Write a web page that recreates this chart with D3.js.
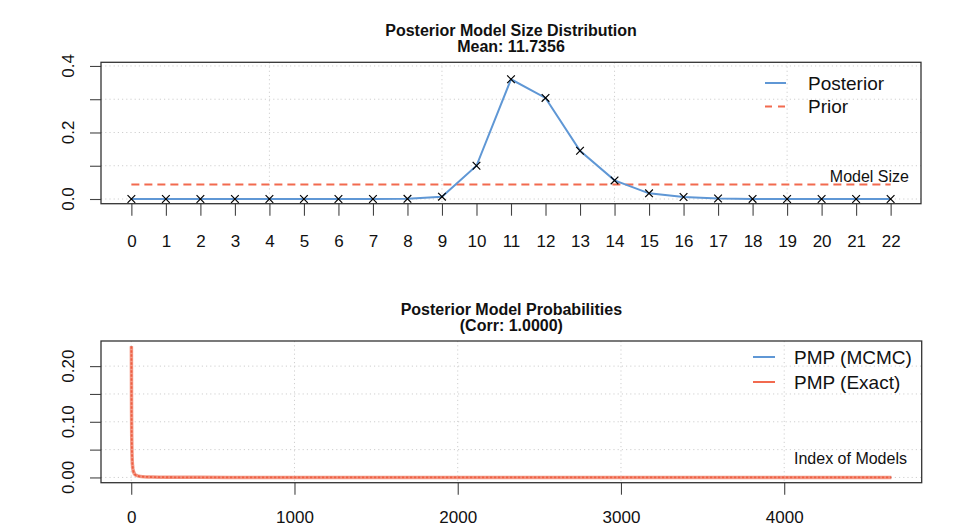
<!DOCTYPE html>
<html>
<head>
<meta charset="utf-8">
<script src="https://cdn.jsdelivr.net/npm/d3@7"></script>
<style>
  html, body { margin: 0; padding: 0; background: #fff; }
  svg { display: block; font-family: "Liberation Sans", Arial, Helvetica, sans-serif; }
</style>
</head>
<body>
<svg id="chart" width="956" height="528"></svg>
<script>
// ---- Model size distribution ----
const modelSizes = d3.range(0, 23);          // 0 .. 22 regressors
const posteriorSize = [0, 0, 0, 0, 0, 0, 0, 0, 0.0005, 0.007, 0.100, 0.360, 0.304,
                       0.145, 0.056, 0.017, 0.006, 0.0015, 0.0003, 0.0001, 0, 0, 0];
const priorSize = [0.0435, 0.0435, 0.0435, 0.0435, 0.0435, 0.0435, 0.0435, 0.0435,
                   0.0435, 0.0435, 0.0435, 0.0435, 0.0435, 0.0435, 0.0435, 0.0435,
                   0.0435, 0.0435, 0.0435, 0.0435, 0.0435, 0.0435, 0.0435];
const sizeYTicks = [0, 0.1, 0.2, 0.3, 0.4];
const sizeYLabels = ["0.0", "", "0.2", "", "0.4"];
const sizeGridX = [4, 9, 14, 19];

// ---- Posterior model probabilities (models ordered by PMP) ----
const modelIndex = [1, 2, 3, 4, 5, 6, 7, 8, 10, 12, 15, 18, 22, 27, 33, 40, 50, 62,
                    80, 100, 130, 170, 220, 300, 420, 600, 900, 1400, 2000, 2800,
                    3600, 4300, 4656];
const pmpExact = [0.2357, 0.118, 0.074, 0.052, 0.040, 0.031, 0.025, 0.021, 0.016,
                  0.0125, 0.0095, 0.0074, 0.0057, 0.0044, 0.0035, 0.0028, 0.0021,
                  0.0016, 0.0012, 0.0009, 0.00068, 0.0005, 0.00037, 0.00026,
                  0.00018, 0.00012, 0.00008, 0.00005, 0.00003, 0.000018,
                  0.00001, 0.000005, 0.000002];
const pmpMcmc = [0.2357, 0.118, 0.074, 0.052, 0.040, 0.031, 0.025, 0.021, 0.016,
                 0.0125, 0.0095, 0.0074, 0.0057, 0.0044, 0.0035, 0.0028, 0.0021,
                 0.0016, 0.0012, 0.0009, 0.00068, 0.0005, 0.00037, 0.00026,
                 0.00018, 0.00012, 0.00008, 0.00005, 0.00003, 0.000018,
                 0.00001, 0.000005, 0.000002];
const pmpYTicks = [0, 0.05, 0.10, 0.15, 0.20];
const pmpYLabels = ["0.00", "", "0.10", "", "0.20"];
const pmpXTicks = [0, 1000, 2000, 3000, 4000];

const BLUE = "#5f97d5";
const RED = "#f26a4f";
const GRID = "#cfcfcf";
const INK = "#111";

const svg = d3.select("#chart");

function pad(lo, hi) { const p = (hi - lo) * 0.04; return [lo - p, hi + p]; }

function panel(opts) {
  const g = svg.append("g");
  const { x, y, box } = opts;

  // dotted grid
  g.append("g").selectAll("line").data(opts.yTicks).join("line")
    .attr("x1", box.l).attr("x2", box.r)
    .attr("y1", d => y(d)).attr("y2", d => y(d))
    .attr("stroke", GRID).attr("stroke-width", 1).attr("stroke-dasharray", "1.2,3");
  g.append("g").selectAll("line").data(opts.gridX).join("line")
    .attr("y1", box.t).attr("y2", box.b)
    .attr("x1", d => x(d)).attr("x2", d => x(d))
    .attr("stroke", GRID).attr("stroke-width", 1).attr("stroke-dasharray", "1.2,3");

  // y axis: ticks from the axis generator, rotated labels alongside
  const yAxis = d3.axisLeft(y).tickValues(opts.yTicks).tickSize(11).tickFormat("");
  const ya = g.append("g").attr("transform", `translate(${box.l},0)`).call(yAxis);
  ya.select(".domain").remove();
  ya.selectAll("line").attr("stroke", "#444").attr("stroke-width", 1.1);
  g.append("g").selectAll("text").data(opts.yTicks).join("text")
    .attr("transform", d => `translate(74,${y(d)}) rotate(-90)`)
    .attr("text-anchor", "middle").attr("font-size", 17).attr("fill", INK)
    .text((d, i) => opts.yLabels[i]);

  // x axis
  const xAxis = d3.axisBottom(x).tickValues(opts.xTicks).tickSize(12)
    .tickFormat((d, i) => opts.xLabels[i]);
  const xa = g.append("g").attr("transform", `translate(0,${box.b})`).call(xAxis);
  xa.select(".domain").remove();
  xa.selectAll("line").attr("stroke", "#444").attr("stroke-width", 1.1);
  xa.selectAll("text").attr("font-size", 17).attr("fill", INK)
    .attr("font-family", "Liberation Sans, Arial, sans-serif")
    .attr("y", opts.labelOffset).attr("dy", "0");

  // two-line bold title
  opts.title.forEach((t, i) => {
    g.append("text").attr("x", (box.l + box.r) / 2).attr("y", box.t - 26 + i * 16)
      .attr("text-anchor", "middle").attr("font-size", 16).attr("font-weight", "bold")
      .attr("fill", INK).text(t);
  });
  return g;
}

// ---------- top panel ----------
const boxA = { l: 101, r: 921, t: 62.3, b: 203.7 };
const xA = d3.scaleLinear().domain(pad(0, 22)).range([boxA.l, boxA.r]);
const yA = d3.scaleLinear().domain([-0.0141, 0.411]).range([boxA.b, boxA.t]);

const gA = panel({
  x: xA, y: yA, box: boxA, yTicks: sizeYTicks, yLabels: sizeYLabels,
  xTicks: modelSizes, xLabels: modelSizes.map(String), gridX: sizeGridX,
  labelOffset: 43,
  title: ["Posterior Model Size Distribution", "Mean: 11.7356"]
});

gA.append("path").datum(modelSizes)
  .attr("fill", "none").attr("stroke", RED).attr("stroke-width", 2)
  .attr("stroke-dasharray", "8,5")
  .attr("d", d3.line().x(d => xA(d)).y((d, i) => yA(priorSize[i])));

gA.append("path").datum(modelSizes)
  .attr("fill", "none").attr("stroke", BLUE).attr("stroke-width", 2)
  .attr("d", d3.line().x(d => xA(d)).y((d, i) => yA(posteriorSize[i])));

const crossA = d3.symbol().type(d3.symbolX).size(40);
gA.append("g").selectAll("path").data(modelSizes).join("path")
  .attr("transform", (d, i) => `translate(${xA(d)},${yA(posteriorSize[i])})`)
  .attr("d", crossA).attr("fill", "none").attr("stroke", "#000").attr("stroke-width", 1.2);

gA.append("text").attr("x", 909).attr("y", 182).attr("text-anchor", "end")
  .attr("font-size", 16).attr("fill", INK).text("Model Size");

// legend
gA.append("line").attr("x1", 765).attr("x2", 786).attr("y1", 83).attr("y2", 83)
  .attr("stroke", BLUE).attr("stroke-width", 2);
gA.append("line").attr("x1", 765).attr("x2", 786).attr("y1", 106.5).attr("y2", 106.5)
  .attr("stroke", RED).attr("stroke-width", 2).attr("stroke-dasharray", "7,6");
gA.append("text").attr("x", 808).attr("y", 90).attr("font-size", 19).attr("fill", INK).text("Posterior");
gA.append("text").attr("x", 808).attr("y", 113).attr("font-size", 19).attr("fill", INK).text("Prior");

gA.append("rect").attr("x", boxA.l).attr("y", boxA.t)
  .attr("width", boxA.r - boxA.l).attr("height", boxA.b - boxA.t)
  .attr("fill", "none").attr("stroke", "#333").attr("stroke-width", 1.3);

// ---------- bottom panel ----------
const boxB = { l: 101, r: 921.7, t: 341, b: 482.7 };
const xB = d3.scaleLinear().domain(pad(1, 4656)).range([boxB.l, boxB.r]);
const yB = d3.scaleLinear().domain(pad(0, d3.max(pmpExact))).range([boxB.b, boxB.t]);

const gB = panel({
  x: xB, y: yB, box: boxB, yTicks: pmpYTicks, yLabels: pmpYLabels,
  xTicks: pmpXTicks, xLabels: pmpXTicks.map(String), gridX: pmpXTicks,
  labelOffset: 40.5,
  title: ["Posterior Model Probabilities", "(Corr: 1.0000)"]
});

const lineB = (vals) => d3.line().x(d => xB(d)).y((d, i) => yB(vals[i]));

gB.append("path").datum(modelIndex).attr("fill", "none")
  .attr("stroke", BLUE).attr("stroke-width", 2).attr("d", lineB(pmpMcmc));
gB.append("path").datum(modelIndex).attr("fill", "none")
  .attr("stroke", "#f39a87").attr("stroke-width", 3.5).attr("d", lineB(pmpExact));
gB.append("path").datum(modelIndex).attr("fill", "none")
  .attr("stroke", "#ee5f43").attr("stroke-width", 1.8)
  .attr("stroke-dasharray", "2.5,1.5").attr("d", lineB(pmpExact));

gB.append("text").attr("x", 794).attr("y", 464).attr("font-size", 16)
  .attr("fill", INK).text("Index of Models");

gB.append("line").attr("x1", 753).attr("x2", 775).attr("y1", 357).attr("y2", 357)
  .attr("stroke", BLUE).attr("stroke-width", 2);
gB.append("line").attr("x1", 753).attr("x2", 775).attr("y1", 382).attr("y2", 382)
  .attr("stroke", RED).attr("stroke-width", 2);
gB.append("text").attr("x", 794).attr("y", 364).attr("font-size", 19).attr("fill", INK).text("PMP (MCMC)");
gB.append("text").attr("x", 794).attr("y", 389).attr("font-size", 19).attr("fill", INK).text("PMP (Exact)");

gB.append("rect").attr("x", boxB.l).attr("y", boxB.t)
  .attr("width", boxB.r - boxB.l).attr("height", boxB.b - boxB.t)
  .attr("fill", "none").attr("stroke", "#333").attr("stroke-width", 1.3);
</script>
</body>
</html>
